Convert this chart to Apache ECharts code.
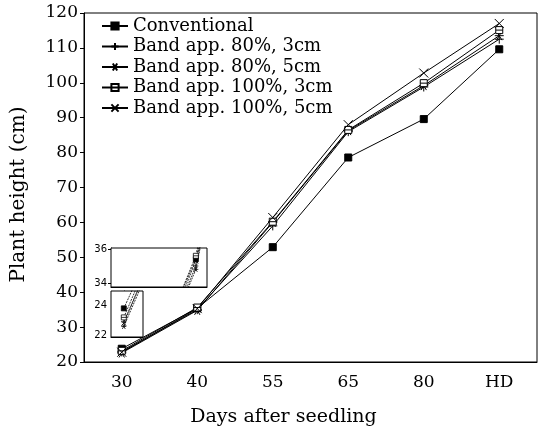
<!DOCTYPE html>
<html>
<head>
<meta charset="UTF-8">
<script src="https://cdn.jsdelivr.net/npm/echarts@6/dist/echarts.min.js"></script>
<style>
body { margin: 0; background: #fff; }
#chart { width: 540px; height: 432px; }
</style>
</head>
<body>
<div id="chart"></div>
<script>
// 数据
const days = ['30', '40', '55', '65', '80', 'HD'];
const conventional = [23.8, 35.4, 52.9, 78.6, 89.6, 109.6];
const band80_3 = [22.9, 35.0, 59.0, 86.0, 98.8, 112.5];
const band80_5 = [22.6, 34.8, 60.0, 86.3, 99.2, 113.5];
const band100_3 = [23.2, 35.6, 60.2, 86.5, 99.9, 115.1];
const band100_5 = [22.8, 35.3, 61.4, 88.0, 102.8, 117.0];
const names = ['Conventional', 'Band app. 80%, 3cm', 'Band app. 80%, 5cm', 'Band app. 100%, 3cm', 'Band app. 100%, 5cm'];

const symbols = [
    'rect',
    'path://M0,5L10,5M5,0L5,10',
    'path://M0,5L10,5M2,1L8,9M8,1L2,9',
    'path://M0,0L10,0L10,10L0,10ZM0,5L10,5',
    'path://M0,0L10,10M10,0L0,10'
];
const fills = ['#000', '#000', '#000', '#fff', '#000'];
const sizes = [7, 9, 9, 7, 9];
const allData = [conventional, band80_3, band80_5, band100_3, band100_5];

const font = 'DejaVu Serif';
let series = [];
allData.forEach((vals, k) => {
    // 主图
    series.push({
        name: names[k], type: 'line', data: vals,
        xAxisIndex: 0, yAxisIndex: 0,
        symbol: symbols[k], symbolSize: sizes[k],
        lineStyle: { color: '#000', width: 1 },
        itemStyle: { color: fills[k], borderColor: '#000', borderWidth: 1 }
    });
    // 两个局部放大图
    [1, 2].forEach(g => {
        series.push({
            name: names[k], type: 'line', z: 10,
            data: vals.map((v, i) => [i, v]),
            xAxisIndex: g, yAxisIndex: g,
            symbol: symbols[k], symbolSize: 5,
            lineStyle: { color: '#000', width: 0.8, type: [2, 1] },
            itemStyle: { color: fills[k], borderColor: '#000', borderWidth: 0.8 },
            clip: true
        });
    });
});

const insetY = (g, min, max, vals) => ({
    type: 'value', gridIndex: g, min: min, max: max,
    axisLine: { show: true, lineStyle: { color: '#000' } },
    splitLine: { show: false },
    axisTick: { show: true, length: 3, customValues: vals, lineStyle: { color: '#000' } },
    axisLabel: { customValues: vals, color: '#000', fontSize: 10, fontFamily: 'DejaVu Sans', margin: 4 }
});
const insetX = (g, min, max) => ({
    type: 'value', gridIndex: g, min: min, max: max,
    axisLine: { show: true, lineStyle: { color: '#000' } },
    splitLine: { show: false }, axisTick: { show: false }, axisLabel: { show: false }
});

const chart = echarts.init(document.getElementById('chart'));
chart.setOption({
    animation: false,
    backgroundColor: '#fff',
    legend: {
        orient: 'vertical', left: 96, top: 12,
        itemWidth: 26, itemHeight: 9, itemGap: 2.5,
        textStyle: { fontFamily: font, fontSize: 18, color: '#000', lineHeight: 18 },
        data: names
    },
    grid: [
        { left: 84, right: 3, top: 13, bottom: 69, show: true, borderColor: '#000', borderWidth: 1 },
        { left: 111, top: 248, width: 96, height: 39, show: true, borderColor: '#000', borderWidth: 1, z: 5, backgroundColor: '#fff' },
        { left: 111, top: 291, width: 32, height: 46, show: true, borderColor: '#000', borderWidth: 1, z: 5, backgroundColor: '#fff' }
    ],
    xAxis: [
        {
            type: 'category', data: days, gridIndex: 0, boundaryGap: true,
            name: 'Days after seedling', nameLocation: 'middle', nameGap: 46,
            nameTextStyle: { fontFamily: font, fontSize: 19, color: '#000', padding: [0, 54, 0, 0] },
            axisLine: { lineStyle: { color: '#000' } },
            axisTick: { alignWithLabel: true, length: 4, lineStyle: { color: '#000' } },
            axisLabel: { fontFamily: font, fontSize: 17, color: '#000', margin: 12 }
        },
        insetX(1, 0.01, 1.13), insetX(2, -0.16, 0.24)
    ],
    yAxis: [
        {
            type: 'value', gridIndex: 0, min: 20, max: 120, interval: 10,
            name: 'Plant height (cm)', nameLocation: 'middle', nameGap: 55,
            nameTextStyle: { fontFamily: font, fontSize: 20, color: '#000', padding: [0, 14, 0, 0] },
            axisLine: { show: true, lineStyle: { color: '#000' } },
            splitLine: { show: false },
            axisTick: { show: true, length: 4, lineStyle: { color: '#000' } },
            axisLabel: { fontFamily: font, fontSize: 17, color: '#000', margin: 6 }
        },
        insetY(1, 33.76, 36.06, [34, 36]), insetY(2, 21.9, 24.95, [22, 24])
    ],
    series: series
});
</script>
</body>
</html>
